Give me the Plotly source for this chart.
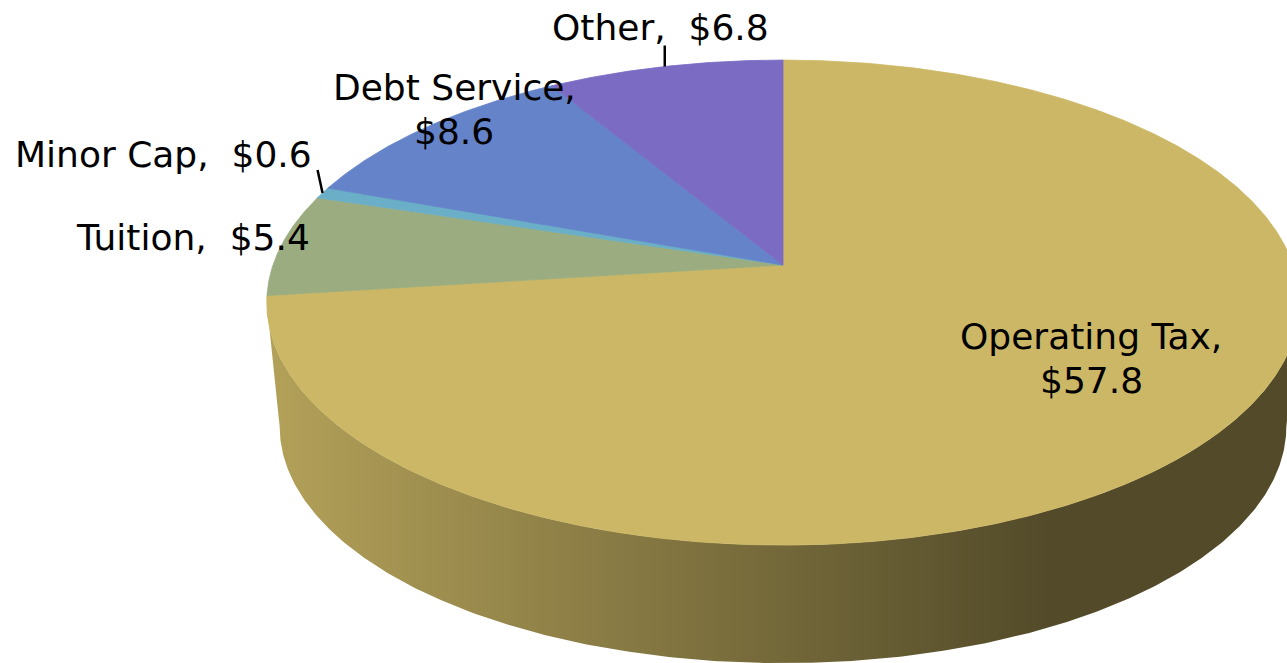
import numpy as np
import plotly.graph_objects as go

# ---------------- data ----------------
labels = ["Operating Tax", "Tuition", "Minor Cap", "Debt Service", "Other"]
values = [57.8, 5.4, 0.6, 8.6, 6.8]
top_colors = ["#CBB765", "#9BAD80", "#6AAEC8", "#6483C9", "#7B6BC3"]

# ---------------- geometry (styles / view) ----------------
W, H = 1287, 663
CX, CY = 783.0, 265.0      # pie apex in pixels
R, RB, P = 510.0, 236.7, 0.155   # radius, vertical radius, perspective strength
S_BOT, DEPTH = 0.975, 125.0      # bottom ellipse scale and offset
FONT_SIZE = 36
LINE_GAP = 44


def rgb(hexc):
    hexc = hexc.lstrip("#")
    return tuple(int(hexc[i:i + 2], 16) for i in (0, 2, 4))


def shade(hexc, f):
    r, g, b = rgb(hexc)
    return "rgb(%d,%d,%d)" % (round(r * f), round(g * f), round(b * f))


def top_pt(theta):
    t = np.radians(theta)
    u = np.sin(t)
    v = -np.cos(t)
    k = 1.0 / (1.0 - P * v)
    return CX + R * u * k, CY + RB * v * k


def bot_pt(theta):
    x, y = top_pt(theta)
    return CX + S_BOT * (x - CX), CY + S_BOT * (y - CY) + DEPTH


def arc(fn, a0, a1, step=0.5):
    n = max(2, int(abs(a1 - a0) / step) + 2)
    th = np.linspace(a0, a1, n)
    xs, ys = fn(th)
    return list(xs), list(ys)


total = float(sum(values))
angles = np.concatenate([[0.0], np.cumsum(values) / total * 360.0])

sil = np.degrees(np.arccos(-P))          # right silhouette angle
vis0, vis1 = sil, 360.0 - sil           # visible front wall range

fig = go.Figure()

# side walls (front-facing part only)
for i, lab in enumerate(labels):
    a0, a1 = max(angles[i], vis0), min(angles[i + 1], vis1)
    if a1 <= a0:
        continue
    tx, ty = arc(top_pt, a0, a1)
    bx, by = arc(bot_pt, a1, a0)
    fig.add_trace(go.Scatter(
        x=tx + bx + [tx[0]], y=ty + by + [ty[0]],
        mode="lines", fill="toself",
        line=dict(width=0, color=shade(top_colors[i], 0.6)),
        fillgradient=dict(type="horizontal", start=270, stop=1050,
                          colorscale=[[0, shade(top_colors[i], 0.88)],
                                      [1, shade(top_colors[i], 0.405)]]),
        hoverinfo="skip", showlegend=False))

# top faces
for i, lab in enumerate(labels):
    ax, ay = arc(top_pt, angles[i], angles[i + 1], 0.25)
    fig.add_trace(go.Scatter(
        x=[CX] + ax + [CX], y=[CY] + ay + [CY],
        mode="lines", fill="toself", fillcolor=top_colors[i],
        line=dict(width=0.8, color=top_colors[i]),
        hoverinfo="skip", showlegend=False, name=lab))

# labels
label_lines = [
    ["%s," % labels[0], "$%.1f" % values[0]],
    ["%s,\u00a0 $%.1f" % (labels[1], values[1])],
    ["%s,\u00a0 $%.1f" % (labels[2], values[2])],
    ["%s," % labels[3], "$%.1f" % values[3]],
    ["%s,\u00a0 $%.1f" % (labels[4], values[4])],
]
label_pos = [
    dict(x=1091, y=358, xanchor="center"),
    dict(x=312, y=237, xanchor="right"),
    dict(x=314, y=154, xanchor="right"),
    dict(x=454, y=109, xanchor="center"),
    dict(x=660, y=27, xanchor="center"),
]
leader_offset = {2: (-5, -23), 4: (0, -21)}

for i, lines in enumerate(label_lines):
    p = label_pos[i]
    n = len(lines)
    for j, t in enumerate(lines):
        fig.add_annotation(x=p["x"], y=p["y"] + (j - (n - 1) / 2.0) * LINE_GAP,
                           xref="x", yref="y", text=t,
                           showarrow=False, xanchor=p["xanchor"], yanchor="middle",
                           align="center",
                           font=dict(family="DejaVu Sans", size=FONT_SIZE, color="black"))

for i, (dx, dy) in leader_offset.items():
    mid = (angles[i] + angles[i + 1]) / 2.0
    ex, ey = top_pt(mid)
    fig.add_trace(go.Scatter(x=[ex + dx, ex], y=[ey + dy, ey], mode="lines",
                             line=dict(color="black", width=2.5),
                             hoverinfo="skip", showlegend=False))

fig.update_layout(
    width=W, height=H, margin=dict(l=0, r=0, t=0, b=0),
    paper_bgcolor="white", plot_bgcolor="white",
    xaxis=dict(range=[0, W], visible=False, fixedrange=True),
    yaxis=dict(range=[H, 0], visible=False, fixedrange=True),
    showlegend=False,
)

fig.write_html("out.html")
